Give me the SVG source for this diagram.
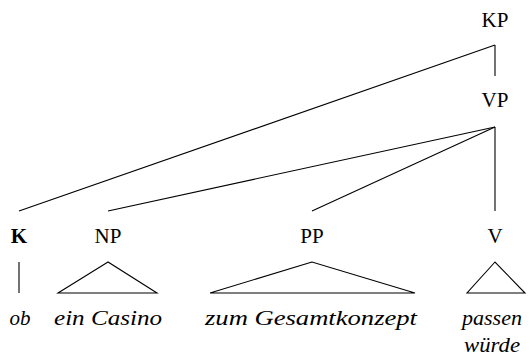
<svg xmlns="http://www.w3.org/2000/svg" width="531" height="362" viewBox="0 0 531 362">
<style>
text{font-family:'Liberation Serif','DejaVu Serif',serif;font-size:21px;fill:#000;text-anchor:middle}
.b{font-weight:bold}
.i{font-style:italic}
line,polygon{stroke:#000;stroke-width:1.1;fill:none}
</style>
<rect width="531" height="362" fill="#fff"/>
<g id="connectors">
<line x1="495" y1="45" x2="495" y2="76"/>
<line x1="495" y1="45" x2="19" y2="211"/>
<line x1="495" y1="127" x2="108" y2="211"/>
<line x1="495" y1="127" x2="312" y2="211"/>
<line x1="495" y1="127" x2="495" y2="211"/>
<line x1="19" y1="262" x2="19" y2="293"/>
<polygon points="108,262 58,293 157,293"/>
<polygon points="312,262 210,293 415,293"/>
<polygon points="495,262 467,293 525,293"/>
</g>
<g id="KP"><text x="495" y="27">KP</text></g>
<g id="VP"><text x="495" y="107">VP</text></g>
<g id="K"><text class="b" x="19" y="243">K</text></g>
<g id="NP"><text x="108" y="243">NP</text></g>
<g id="PP"><text x="312" y="243">PP</text></g>
<g id="V"><text x="495" y="243">V</text></g>
<g id="ob"><text class="i" x="20" y="325">ob</text></g>
<g id="ein-casino"><text class="i" x="108" y="325" textLength="108" lengthAdjust="spacingAndGlyphs">ein Casino</text></g>
<g id="zum-gesamtkonzept"><text class="i" x="311" y="325" textLength="212" lengthAdjust="spacingAndGlyphs">zum Gesamtkonzept</text></g>
<g id="passen-wuerde"><text class="i" x="492" y="325" textLength="60" lengthAdjust="spacingAndGlyphs">passen</text><text class="i" x="492" y="352" textLength="56" lengthAdjust="spacingAndGlyphs">würde</text></g>
</svg>
